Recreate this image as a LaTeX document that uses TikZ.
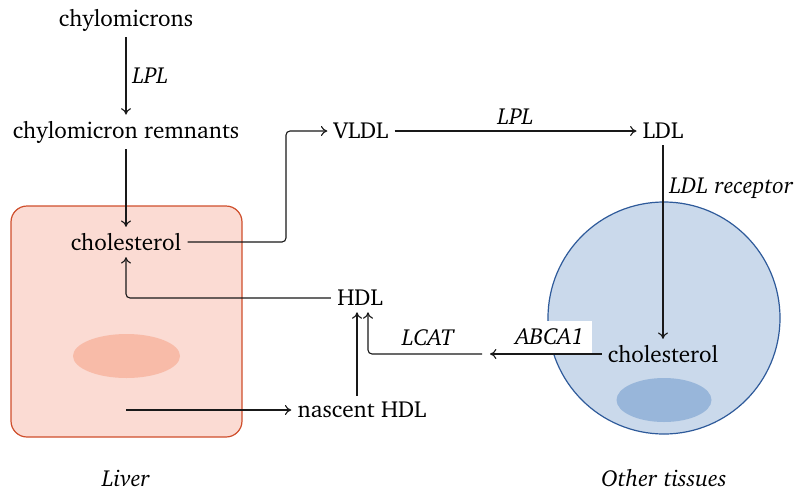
\documentclass[tikz,border=0pt]{standalone}
\usepackage[T1]{fontenc}
\usepackage{charter}
\usetikzlibrary{arrows.meta}
\definecolor{liverfill}{HTML}{FBDBD3}
\definecolor{liverdraw}{HTML}{CF4F2C}
\definecolor{livernuc}{HTML}{F8BBA8}
\definecolor{cellfill}{HTML}{CAD9EB}
\definecolor{celldraw}{HTML}{2E5A9A}
\definecolor{cellnuc}{HTML}{98B6DA}
\tikzset{
  every node/.style={font=\fontsize{11.6}{13.9}\selectfont, inner sep=3pt},
  lbl/.style={font=\fontsize{11.6}{13.9}\selectfont\itshape},
  arr/.style={-{To[length=3.2pt,width=5pt]}, line width=0.55pt, draw=black!90},
}
\begin{document}
\begin{tikzpicture}[x=0.5pt,y=-0.5pt]
\useasboundingbox (0,0) rectangle (804,489);
% liver
\draw[fill=liverfill, draw=liverdraw, line width=0.6pt, rounded corners=8pt] (11,206) rectangle (242,437);
\fill[livernuc] (126.5,356) ellipse [x radius=53.5, y radius=22];
% other tissue cell
\draw[fill=cellfill, draw=celldraw, line width=0.6pt] (664,318) circle [radius=116];
\fill[cellnuc] (664,400) ellipse [x radius=47.5, y radius=22];
% nodes
\node (chy) at (126,20) {chylomicrons};
\node (rem) at (126,132) {chylomicron remnants};
\node (lchol) at (126,242) {cholesterol};
\node (vldl) at (361,131) {VLDL};
\node (ldl) at (663,131) {LDL};
\node (hdl) at (360,298) {HDL};
\node (nhdl) at (362,410) {nascent HDL};
\node (ochol) at (663,354) {cholesterol};
\node[lbl] (liver) at (126,478) {Liver};
\node[lbl] (other) at (664,478) {Other tissues};
\coordinate (c1) at (286,242);
\coordinate (c2) at (126,298);
\coordinate (c3) at (126,410);
\coordinate (c4) at (490,354);
\coordinate (c5) at (482,354);
\coordinate (c6) at (368,354);
\coordinate (c7) at (357,0);
% connectors
\draw[arr] (chy) -- node[lbl, right] (lpl1) {LPL} (rem);
\draw[arr] (rem) -- (lchol);
\draw[arr, rounded corners=2pt] (lchol.east) -- (c1) |- (vldl.west);
\draw[arr] (vldl) -- node[lbl, above] (lpl2) {LPL} (ldl);
\draw[arr] (ldl) -- node[lbl, right, pos=0.22] (ldlr) {LDL receptor} (ochol);
\draw[arr] (ochol.west) -- (c4);
\node[lbl, fill=white, inner sep=4pt] (abca) at (550,337) {ABCA1};
\draw[arr, rounded corners=2pt] (c5) -- (c6) -- (c6 |- hdl.south);
\node[lbl] (lcat) at (428,338) {LCAT};
\draw[arr] (c7 |- nhdl.north) -- (c7 |- hdl.south);
\draw[arr, rounded corners=2pt] (hdl.west) -- (c2) -- (lchol.south);
\draw[arr] (c3) -- (nhdl.west);
\end{tikzpicture}
\end{document}
